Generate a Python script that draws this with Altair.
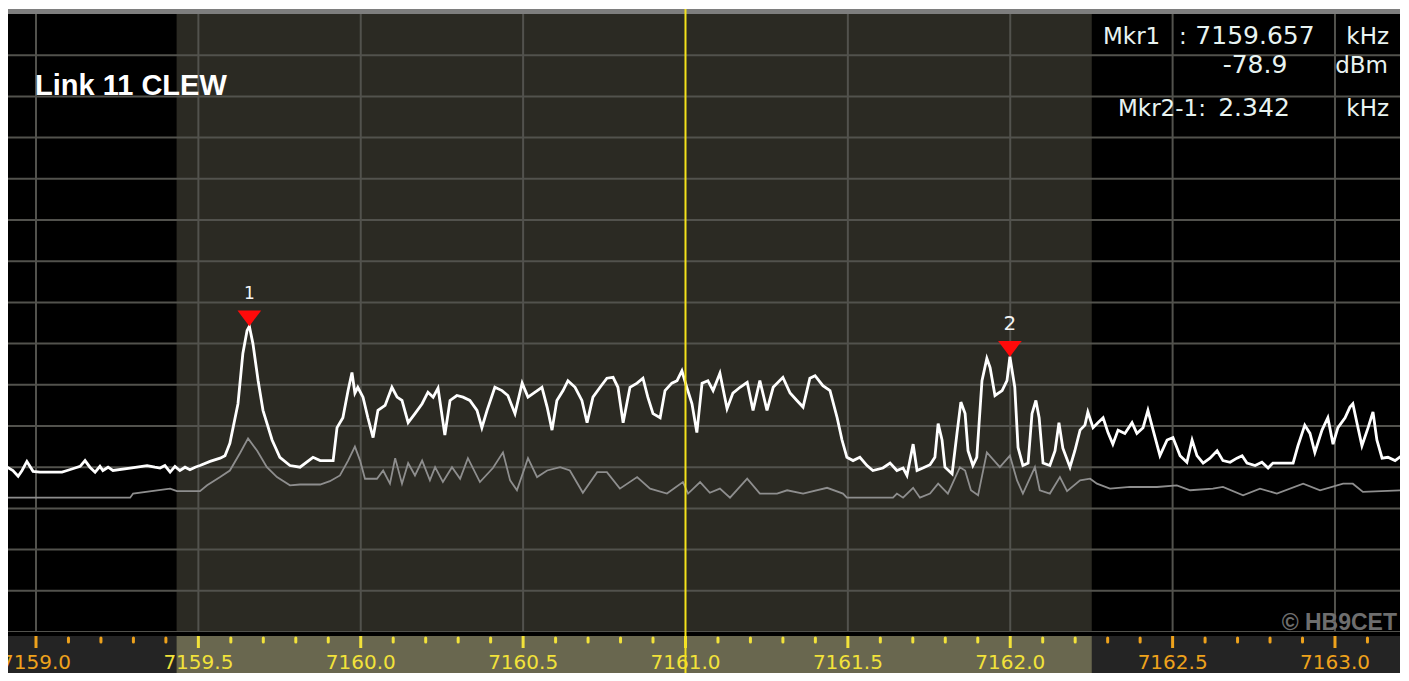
import altair as alt
import pandas as pd

# ---------------- data ----------------
white_freq = [7158.911, 7158.929, 7158.945, 7158.957, 7158.972, 7158.991, 7159.012, 7159.080, 7159.096, 7159.120,
              7159.136, 7159.151, 7159.166, 7159.182, 7159.197, 7159.206, 7159.222, 7159.237, 7159.290, 7159.342,
              7159.366, 7159.382, 7159.397, 7159.413, 7159.428, 7159.443, 7159.459, 7159.474, 7159.490, 7159.505,
              7159.536, 7159.567, 7159.582, 7159.597, 7159.622, 7159.637, 7159.650, 7159.657, 7159.668, 7159.684,
              7159.699, 7159.727, 7159.751, 7159.782, 7159.813, 7159.853, 7159.875, 7159.915, 7159.927, 7159.945,
              7159.961, 7159.973, 7159.982, 7159.991, 7160.007, 7160.022, 7160.038, 7160.053, 7160.075, 7160.096,
              7160.112, 7160.127, 7160.146, 7160.167, 7160.189, 7160.207, 7160.223, 7160.238, 7160.259, 7160.275,
              7160.296, 7160.315, 7160.336, 7160.358, 7160.373, 7160.389, 7160.413, 7160.435, 7160.453, 7160.475,
              7160.497, 7160.515, 7160.537, 7160.558, 7160.574, 7160.589, 7160.604, 7160.623, 7160.638, 7160.660,
              7160.681, 7160.697, 7160.715, 7160.737, 7160.758, 7160.777, 7160.792, 7160.808, 7160.829, 7160.851,
              7160.869, 7160.884, 7160.900, 7160.922, 7160.937, 7160.958, 7160.974, 7160.989, 7161.004, 7161.020,
              7161.035, 7161.051, 7161.069, 7161.085, 7161.106, 7161.128, 7161.146, 7161.168, 7161.190, 7161.208,
              7161.229, 7161.251, 7161.270, 7161.300, 7161.322, 7161.343, 7161.362, 7161.383, 7161.399, 7161.423,
              7161.445, 7161.467, 7161.482, 7161.497, 7161.516, 7161.537, 7161.559, 7161.577, 7161.608, 7161.630,
              7161.651, 7161.670, 7161.682, 7161.701, 7161.713, 7161.731, 7161.753, 7161.768, 7161.778, 7161.790,
              7161.799, 7161.821, 7161.836, 7161.848, 7161.861, 7161.870, 7161.885, 7161.897, 7161.913, 7161.928,
              7161.938, 7161.953, 7161.975, 7161.990, 7161.999, 7162.014, 7162.024, 7162.039, 7162.055, 7162.067,
              7162.079, 7162.089, 7162.101, 7162.122, 7162.138, 7162.150, 7162.162, 7162.184, 7162.199, 7162.215,
              7162.230, 7162.239, 7162.255, 7162.270, 7162.286, 7162.301, 7162.316, 7162.332, 7162.353, 7162.375,
              7162.390, 7162.409, 7162.424, 7162.440, 7162.461, 7162.483, 7162.501, 7162.523, 7162.544, 7162.560,
              7162.575, 7162.594, 7162.615, 7162.637, 7162.655, 7162.677, 7162.698, 7162.714, 7162.729, 7162.754,
              7162.775, 7162.794, 7162.809, 7162.871, 7162.886, 7162.907, 7162.923, 7162.938, 7162.960, 7162.978,
              7162.994, 7163.009, 7163.031, 7163.046, 7163.055, 7163.068, 7163.083, 7163.102, 7163.117, 7163.129,
              7163.145, 7163.163, 7163.185, 7163.206]
white_dbm = [-96.0, -96.4, -97.1, -96.4, -95.3, -96.5, -96.6, -96.6, -96.4, -96.1,
             -95.9, -95.2, -96.0, -96.6, -95.9, -96.4, -96.0, -96.4, -96.1, -95.8,
             -96.0, -96.1, -95.8, -96.6, -95.9, -96.4, -96.0, -96.3, -96.0, -95.8,
             -95.3, -94.9, -94.6, -93.1, -88.3, -82.2, -79.4, -78.9, -81.0, -85.5,
             -89.1, -92.7, -94.8, -95.8, -96.0, -94.8, -95.2, -95.2, -91.2, -90.0,
             -86.7, -84.5, -87.0, -86.3, -87.5, -90.0, -92.4, -89.1, -88.5, -86.3,
             -87.5, -87.9, -90.6, -89.5, -88.3, -86.9, -87.5, -86.4, -92.1, -87.9,
             -87.3, -87.5, -87.9, -89.1, -91.2, -89.1, -86.3, -86.7, -87.3, -89.5,
             -85.8, -87.5, -86.9, -86.3, -88.7, -91.5, -87.9, -86.7, -85.5, -86.3,
             -87.9, -90.6, -87.5, -86.3, -85.2, -85.1, -86.3, -90.6, -86.3, -85.8,
             -85.2, -87.5, -89.5, -90.0, -86.7, -85.8, -85.5, -84.3, -86.3, -88.3,
             -91.8, -85.8, -85.5, -86.7, -84.6, -88.9, -87.0, -86.3, -85.7, -89.1,
             -85.5, -89.1, -86.3, -85.1, -87.0, -87.9, -88.7, -85.2, -84.9, -86.1,
             -86.7, -90.0, -92.7, -94.8, -95.2, -94.8, -95.8, -96.4, -96.1, -95.5,
             -96.4, -96.1, -97.0, -93.2, -96.4, -96.1, -95.7, -94.8, -90.7, -92.7,
             -96.0, -96.8, -91.9, -88.1, -89.5, -94.0, -95.8, -94.8, -85.5, -82.8,
             -83.9, -87.3, -86.7, -85.5, -82.6, -86.3, -93.6, -95.8, -95.5, -89.5,
             -87.9, -90.0, -95.5, -95.8, -94.0, -90.6, -93.7, -96.0, -94.0, -91.5,
             -90.9, -89.3, -91.2, -90.6, -90.0, -91.8, -93.2, -91.5, -91.9, -90.6,
             -91.9, -91.2, -89.1, -91.5, -94.6, -92.7, -92.4, -94.6, -95.4, -92.7,
             -94.6, -95.5, -94.9, -94.0, -95.2, -95.4, -94.9, -94.6, -95.5, -95.8,
             -95.4, -96.1, -95.5, -95.5, -93.4, -90.9, -91.9, -94.2, -91.5, -90.0,
             -93.2, -91.2, -90.0, -88.7, -88.3, -90.7, -93.4, -91.2, -89.3, -92.7,
             -94.9, -94.8, -95.2, -94.6]

grey_freq = [7158.911, 7159.290, 7159.299, 7159.373, 7159.413, 7159.434, 7159.505, 7159.527, 7159.567, 7159.597,
             7159.628, 7159.653, 7159.681, 7159.711, 7159.742, 7159.782, 7159.813, 7159.875, 7159.905, 7159.936,
             7159.961, 7159.982, 7159.998, 7160.013, 7160.050, 7160.069, 7160.090, 7160.106, 7160.127, 7160.146,
             7160.167, 7160.189, 7160.213, 7160.229, 7160.253, 7160.281, 7160.306, 7160.330, 7160.367, 7160.407,
             7160.438, 7160.460, 7160.481, 7160.515, 7160.543, 7160.574, 7160.614, 7160.644, 7160.684, 7160.728,
             7160.758, 7160.798, 7160.851, 7160.891, 7160.943, 7160.992, 7161.008, 7161.045, 7161.075, 7161.106,
             7161.137, 7161.190, 7161.229, 7161.282, 7161.313, 7161.362, 7161.436, 7161.485, 7161.497, 7161.639,
             7161.651, 7161.670, 7161.701, 7161.722, 7161.753, 7161.778, 7161.808, 7161.845, 7161.861, 7161.879,
             7161.901, 7161.928, 7161.968, 7161.999, 7162.021, 7162.039, 7162.076, 7162.091, 7162.122, 7162.153,
             7162.175, 7162.215, 7162.246, 7162.267, 7162.307, 7162.369, 7162.452, 7162.513, 7162.554, 7162.624,
             7162.655, 7162.717, 7162.769, 7162.821, 7162.902, 7162.954, 7163.025, 7163.055, 7163.086, 7163.206]
grey_dbm = [-99.7, -99.7, -99.2, -98.8, -98.6, -98.9, -98.9, -98.2, -97.2, -96.4,
            -94.3, -92.5, -94.0, -96.0, -97.2, -98.2, -98.1, -98.1, -97.7, -97.0,
            -95.2, -93.5, -95.2, -97.4, -97.4, -96.4, -98.0, -94.9, -98.0, -95.5,
            -97.0, -95.2, -97.6, -96.0, -97.8, -96.0, -97.4, -94.9, -97.8, -96.1,
            -94.2, -97.6, -98.8, -94.9, -97.2, -96.4, -96.0, -96.4, -99.1, -96.6,
            -96.6, -98.6, -97.2, -98.6, -99.2, -97.8, -99.2, -97.8, -99.1, -98.6,
            -99.7, -97.4, -99.2, -99.2, -98.8, -99.2, -98.5, -99.2, -99.7, -99.7,
            -99.2, -99.7, -98.5, -99.7, -99.2, -98.0, -99.2, -96.0, -96.4, -98.8,
            -99.4, -94.2, -96.0, -94.6, -97.6, -99.2, -96.0, -98.8, -99.2, -97.2,
            -98.9, -97.6, -97.4, -98.0, -98.6, -98.4, -98.4, -98.2, -98.8, -98.6,
            -98.4, -99.4, -98.6, -99.2, -98.0, -98.8, -98.0, -98.0, -99.0, -98.8]

major_ticks = [7159.0, 7159.5, 7160.0, 7160.5, 7161.0, 7161.5, 7162.0, 7162.5, 7163.0]
minor_ticks = [7159.1, 7159.2, 7159.3, 7159.4, 7159.6, 7159.7, 7159.8, 7159.9,
               7160.1, 7160.2, 7160.3, 7160.4, 7160.6, 7160.7, 7160.8, 7160.9,
               7161.1, 7161.2, 7161.3, 7161.4, 7161.6, 7161.7, 7161.8, 7161.9,
               7162.1, 7162.2, 7162.3, 7162.4, 7162.6, 7162.7, 7162.8, 7162.9, 7163.1]
grid_dbm = [-46, -51, -56, -61, -66, -71, -76, -81, -86, -91, -96, -101, -106, -111, -116]
center_freq = 7161.0
band_lo, band_hi = 7159.433, 7162.251
marker_freq = [7159.657, 7161.999]
marker_dbm = [-78.9, -82.6]
marker_label = ["1", "2"]
marker_size = [17, 20]

title_text = "Link 11 CLEW"
copyright_text = "\u00a9 HB9CET"

# ---------------- layout ----------------
W, H = 1392, 618
STRIP_TOP, STRIP_BOT = 622, 659

xs = alt.Scale(domain=[7158.9138, 7163.2002], nice=False, zero=False)
ys = alt.Scale(domain=[-116, -41], nice=False, zero=False)


def zone(f):
    return "in" if band_lo <= f <= band_hi else "out"


one = pd.DataFrame({"d": [0]})

band = alt.Chart(pd.DataFrame({"lo": [band_lo], "hi": [band_hi]})).mark_rect(color="#2b2a23").encode(
    x=alt.X("lo:Q", scale=xs, axis=None), x2="hi:Q", y=alt.value(0), y2=alt.value(H))

hgrid = alt.Chart(pd.DataFrame({"db": grid_dbm})).mark_rule(color="#52524d", strokeWidth=2).encode(
    y=alt.Y("db:Q", scale=ys, axis=None))

vgrid = alt.Chart(pd.DataFrame({"f": [m for m in major_ticks if m != center_freq]})).mark_rule(
    color="#52524d", strokeWidth=2).encode(x=alt.X("f:Q", scale=xs, axis=None))

grey = alt.Chart(pd.DataFrame({"f": grey_freq, "db": grey_dbm})).mark_line(
    color="#8e8e8e", strokeWidth=1.8, clip=True).encode(
    x=alt.X("f:Q", scale=xs, axis=None), y=alt.Y("db:Q", scale=ys, axis=None))

white = alt.Chart(pd.DataFrame({"f": white_freq, "db": white_dbm})).mark_line(
    color="#ffffff", strokeWidth=2.8, clip=True).encode(
    x=alt.X("f:Q", scale=xs, axis=None), y=alt.Y("db:Q", scale=ys, axis=None))

top_border = alt.Chart(one).mark_rect(color="#7e7e7e").encode(
    x=alt.value(0), x2=alt.value(W), y=alt.value(-5), y2=alt.value(0))

sep = alt.Chart(one).mark_rect(color="#000000").encode(
    x=alt.value(0), x2=alt.value(W), y=alt.value(H), y2=alt.value(STRIP_TOP))
strip_dark = alt.Chart(one).mark_rect(color="#242424").encode(
    x=alt.value(0), x2=alt.value(W), y=alt.value(STRIP_TOP), y2=alt.value(STRIP_BOT))
strip_band = alt.Chart(pd.DataFrame({"lo": [band_lo], "hi": [band_hi]})).mark_rect(color="#69674f").encode(
    x=alt.X("lo:Q", scale=xs, axis=None), x2="hi:Q", y=alt.value(STRIP_TOP), y2=alt.value(STRIP_BOT))

tick_col = alt.Scale(domain=["in", "out"], range=["#f2e23a", "#eea21c"])
lab_col = alt.Scale(domain=["in", "out"], range=["#e4b62a", "#eca024"])

maj_df = pd.DataFrame({"f": major_ticks, "z": [zone(f) for f in major_ticks],
                       "lab": [f"{f:.1f}" for f in major_ticks]})
min_df = pd.DataFrame({"f": minor_ticks, "z": [zone(f) for f in minor_ticks]})

maj_ticks = alt.Chart(maj_df).mark_rule(strokeWidth=3).encode(
    x=alt.X("f:Q", scale=xs, axis=None), y=alt.value(STRIP_TOP), y2=alt.value(STRIP_TOP + 12),
    color=alt.Color("z:N", scale=tick_col, legend=None))
min_ticks = alt.Chart(min_df).mark_rule(strokeWidth=3, strokeCap="round").encode(
    x=alt.X("f:Q", scale=xs, axis=None), y=alt.value(STRIP_TOP + 2), y2=alt.value(STRIP_TOP + 6),
    color=alt.Color("z:N", scale=tick_col, legend=None))
maj_labels = alt.Chart(maj_df).mark_text(font="DejaVu Sans", fontSize=20, baseline="alphabetic").encode(
    x=alt.X("f:Q", scale=xs, axis=None), y=alt.value(STRIP_BOT - 4), text="lab:N",
    color=alt.Color("z:N", scale=lab_col, legend=None))

center = alt.Chart(pd.DataFrame({"f": [center_freq]})).mark_rule(color="#f4e21c", strokeWidth=2).encode(
    x=alt.X("f:Q", scale=xs, axis=None), y=alt.value(-5), y2=alt.value(STRIP_BOT))

mk_df = pd.DataFrame({"f": marker_freq, "db": marker_dbm, "lab": marker_label, "sz": marker_size})
tri = alt.Chart(mk_df).mark_point(shape="M-1,-0.667L1,-0.667L0,0.667Z", filled=True, color="#ff0a0a",
                                  opacity=1, size=560, yOffset=-8).encode(
    x=alt.X("f:Q", scale=xs, axis=None), y=alt.Y("db:Q", scale=ys, axis=None))
tri_lab = alt.Chart(mk_df).mark_text(font="DejaVu Sans", color="#f4f4f4", baseline="alphabetic", dy=-27).encode(
    x=alt.X("f:Q", scale=xs, axis=None), y=alt.Y("db:Q", scale=ys, axis=None), text="lab:N",
    size=alt.Size("sz:Q", scale=None))


def label(text, x, y, size, align="left", color="#e8f3f1", font="DejaVu Sans", weight="normal"):
    return alt.Chart(pd.DataFrame({"t": [text]})).mark_text(
        align=align, baseline="alphabetic", fontSize=size, font=font, fontWeight=weight, color=color).encode(
        x=alt.value(x), y=alt.value(y), text="t:N")


texts = [
    label(title_text, 27, 81, 29, font="Liberation Sans", weight="bold", color="#ffffff"),
    label("Mkr1", 1095, 30, 23),
    label(":", 1171, 30, 23),
    label("7159.657", 1247, 30, 25, align="center"),
    label("kHz", 1381, 30, 23, align="right"),
    label("-78.9", 1247, 59, 25, align="center"),
    label("dBm", 1380, 59, 23, align="right"),
    label("Mkr2-1:", 1110, 102, 23),
    label("2.342", 1246, 102, 25, align="center"),
    label("kHz", 1381, 102, 23, align="right"),
    label(copyright_text, 1389, 616, 23, align="right", color="#6e6e6e", font="Liberation Sans", weight="bold"),
]

chart = alt.layer(
    band, hgrid, vgrid, grey, white, top_border, sep, strip_dark, strip_band,
    maj_ticks, min_ticks, maj_labels, center, tri, tri_lab, *texts
).properties(
    width=W, height=H,
    padding={"left": 0, "top": 6, "right": 0, "bottom": 41},
    autosize=alt.AutoSizeParams(type="none"),
    background="#ffffff",
).configure_view(stroke=None, fill="#000000")

chart.save("out.html", embed_options={"renderer": "svg", "actions": False})
